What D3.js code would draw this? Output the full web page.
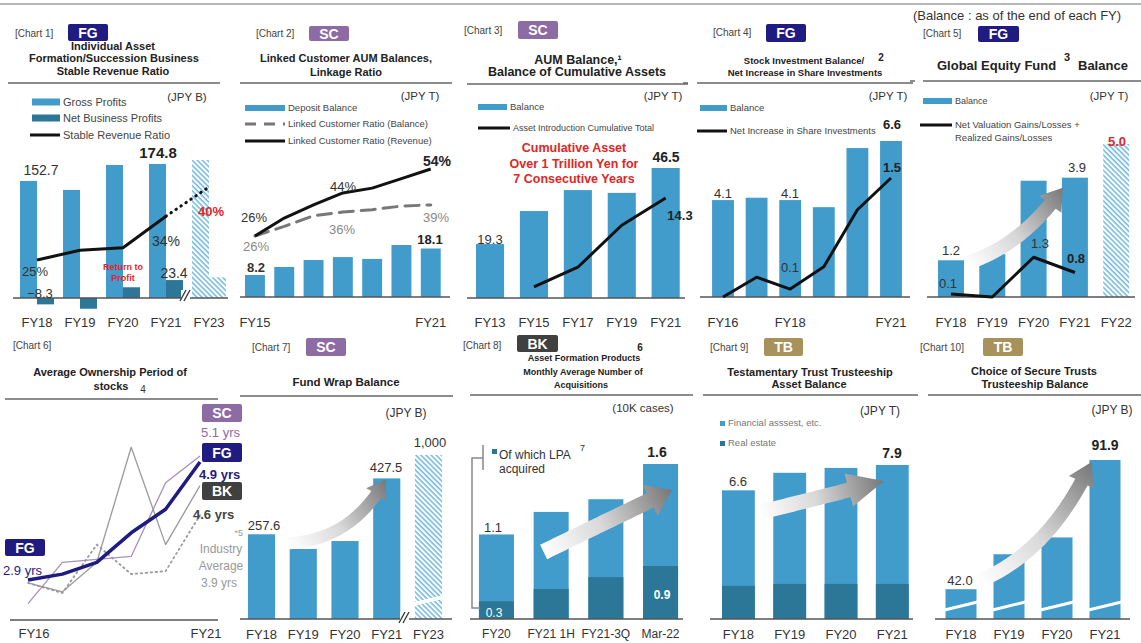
<!DOCTYPE html>
<html>
<head>
<meta charset="utf-8">
<script src="https://cdn.jsdelivr.net/npm/d3@7"></script>
<style>
body { margin: 0; background: #fff; }
svg { display: block; font-family: "Liberation Sans", Arial, sans-serif; }
</style>
</head>
<body>
<svg id="chart" width="1141" height="643"></svg>
<script>
// ---- data ----
var c1Years = ["FY18", "FY19", "FY20", "FY21", "FY23"];
var c1Gross = [152.7, 141.0, 173.5, 174.8, 180.0];   // FY23 = target (hatched)
var c1Net = [-8.3, -14.0, 14.0, 23.4, 27.0];
var c1Ratio = [25, 27, 27.5, 34, 40];

var c2Years = ["FY15", "FY16", "FY17", "FY18", "FY19", "FY20", "FY21"];
var c2Deposit = [8.2, 11.2, 13.8, 14.9, 14.2, 19.4, 18.1];
var c2RatioBal = [26, 30, 34.5, 36, 37, 38.5, 39];
var c2RatioRev = [26, 33.5, 39, 44, 46, 50, 54];
var c2Ticks = ["FY15", "FY21"];

var c3Years = ["FY13", "FY15", "FY17", "FY19", "FY21"];
var c3Balance = [19.3, 31.1, 38.6, 37.6, 46.5];
var c3Cumul = [null, 1.6, 4.4, 10.4, 14.3];

var c4Years = ["FY16", "FY17", "FY18", "FY19", "FY20", "FY21"];
var c4Balance = [4.1, 4.2, 4.1, 3.8, 6.3, 6.6];
var c4NetInc = [0.0, 0.25, 0.1, 0.38, 1.1, 1.5];
var c4Ticks = ["FY16", "FY18", "FY21"];

var c5Years = ["FY18", "FY19", "FY20", "FY21", "FY22"];
var c5Balance = [1.2, 1.4, 3.8, 3.9, 5.0];   // FY22 = target (hatched)
var c5Gains = [0.1, 0.0, 1.3, 0.8];

var c6Years = ["FY16", "FY17", "FY18", "FY19", "FY20", "FY21"];
var c6FG = [2.9, 3.0, 3.2, 3.7, 4.1, 4.9];
var c6SC = [2.5, 3.2, 3.25, 3.3, 4.55, 5.0];
var c6BK = [2.85, 2.7, 3.2, 5.15, 3.5, 4.5];
var c6Ind = [2.85, 2.68, 3.5, 3.0, 3.05, 4.0];
var c6Ticks = ["FY16", "FY21"];

var c7Years = ["FY18", "FY19", "FY20", "FY21", "FY23"];
var c7Balance = [257.6, 213, 237, 427.5, 1000];  // FY23 = target (hatched)

var c8Periods = ["FY20", "FY21 1H", "FY21-3Q", "Mar-22"];
var c8Total = [1.1, 1.26, 1.35, 1.6];
var c8LPA = [0.3, 0.51, 0.71, 0.9];

var c9Years = ["FY18", "FY19", "FY20", "FY21"];
var c9Total = [6.6, 7.5, 7.75, 7.9];
var c9RealEstate = [1.7, 1.8, 1.8, 1.8];

var c10Years = ["FY18", "FY19", "FY20", "FY21"];
var c10Balance = [42.0, 55.5, 62.0, 91.9];

var BLUE = "#419bcb", DARK = "#2c7797", NAVY = "#1f1b80", PURPLE = "#8d6ca6",
    BKGRAY = "#404040", GOLD = "#a8925b", RED = "#e02626";

var svg = d3.select("#chart");
var defs = svg.append("defs");
var fmt = d3.format(".1f");

// hatch for target bars
var pat = defs.append("pattern").attr("id", "hatch")
    .attr("width", 3.6).attr("height", 3.6)
    .attr("patternUnits", "userSpaceOnUse")
    .attr("patternTransform", "rotate(-45)");
pat.append("rect").attr("width", 3.6).attr("height", 3.6).attr("fill", "#fff");
pat.append("line").attr("x1", 1).attr("y1", 0).attr("x2", 1).attr("y2", 3.6)
    .attr("stroke", "#4aa6d8").attr("stroke-width", 1.2);

// ---- helpers ----
function txt(g, x, y, s, o) {
    o = o || {};
    return g.append("text")
        .attr("x", x).attr("y", y).attr("dy", "0.35em")
        .attr("text-anchor", o.anchor || "middle")
        .attr("font-size", o.size || 12)
        .attr("font-weight", o.bold ? "bold" : null)
        .attr("fill", o.color || "#333")
        .text(s);
}

function hline(x1, x2, y, color, w) {
    svg.append("line").attr("x1", x1).attr("x2", x2).attr("y1", y).attr("y2", y)
        .attr("stroke", color || "#666").attr("stroke-width", w || 1.5);
}

function badge(x, y, w, h, fill, s) {
    svg.append("rect").attr("x", x).attr("y", y).attr("width", w).attr("height", h)
        .attr("rx", 2).attr("fill", fill);
    txt(svg, x + w / 2, y + h / 2 + 0.5, s, {bold: true, size: 14, color: "#fff"});
}

function header(label, lx, ly, b, titles) {
    txt(svg, lx, ly, label, {anchor: "start", size: 10, color: "#444"});
    if (b) badge(b[0], b[1], b[2], b[3], b[4], b[5]);
    titles.forEach(function(t) {
        txt(svg, t[1], t[2], t[0], {bold: true, size: t[3] || 11, color: "#222", anchor: t[4] || "middle"});
    });
}

function legendRect(x, y, w, h, fill, label, size) {
    svg.append("rect").attr("x", x).attr("y", y - h / 2).attr("width", w).attr("height", h).attr("fill", fill);
    txt(svg, x + w + 3, y, label, {anchor: "start", size: size || 10, color: "#444"});
}

function legendLine(x, y, w, stroke, width, dash, label, size) {
    svg.append("line").attr("x1", x).attr("x2", x + w).attr("y1", y).attr("y2", y)
        .attr("stroke", stroke).attr("stroke-width", width).attr("stroke-dasharray", dash);
    txt(svg, x + w + 3, y, label, {anchor: "start", size: size || 10, color: "#444"});
}

function bars(x, y, keys, vals, fill, offset, width) {
    svg.append("g").selectAll("rect").data(vals).enter().append("rect")
        .attr("x", function(d, i) { return x(keys[i]) + (offset || 0); })
        .attr("width", width || x.bandwidth())
        .attr("y", function(d) { return Math.min(y(d), y.range()[0]); })
        .attr("height", function(d) { return Math.abs(y.range()[0] - y(d)); })
        .attr("fill", fill);
}

function path(pts, stroke, width, dash) {
    svg.append("path").datum(pts)
        .attr("d", d3.line().x(function(p) { return p[0]; }).y(function(p) { return p[1]; }))
        .attr("fill", "none").attr("stroke", stroke).attr("stroke-width", width)
        .attr("stroke-dasharray", dash || null)
        .attr("stroke-linejoin", "round").attr("stroke-linecap", dash ? "round" : "butt");
}

function xLabels(x, keys, y, size, shift) {
    keys.forEach(function(k) {
        txt(svg, x(k) + (x.bandwidth ? x.bandwidth() / 2 : 0) + (shift || 0), y, k, {size: size || 13, color: "#333"});
    });
}

// gradient arrow along a quadratic curve
var arrowN = 0;
function gArrow(p0, c, p2, body, head, headLen) {
    var id = "ag" + (arrowN++);
    var gr = defs.append("linearGradient").attr("id", id).attr("gradientUnits", "userSpaceOnUse")
        .attr("x1", p0[0]).attr("y1", p0[1]).attr("x2", p2[0]).attr("y2", p2[1]);
    gr.append("stop").attr("offset", 0).attr("stop-color", "#ffffff");
    gr.append("stop").attr("offset", 0.45).attr("stop-color", "#d8d8d8");
    gr.append("stop").attr("offset", 1).attr("stop-color", "#777");
    function bz(t) {
        var u = 1 - t;
        return [u * u * p0[0] + 2 * u * t * c[0] + t * t * p2[0], u * u * p0[1] + 2 * u * t * c[1] + t * t * p2[1]];
    }
    var N = 60, pts = [], len = [0];
    for (var i = 0; i <= N; i++) {
        pts.push(bz(i / N));
        if (i > 0) len.push(len[i - 1] + Math.hypot(pts[i][0] - pts[i - 1][0], pts[i][1] - pts[i - 1][1]));
    }
    var L = len[N], k = 0;
    while (k < N && len[k] < L - headLen) k++;
    var left = [], right = [];
    for (i = 0; i <= k; i++) {
        var a = pts[Math.max(i - 1, 0)], b = pts[Math.min(i + 1, N)];
        var dx = b[0] - a[0], dy = b[1] - a[1], dl = Math.hypot(dx, dy);
        var nx = -dy / dl, ny = dx / dl;
        left.push([pts[i][0] + nx * body / 2, pts[i][1] + ny * body / 2]);
        right.push([pts[i][0] - nx * body / 2, pts[i][1] - ny * body / 2]);
    }
    var B = pts[k], ex = p2[0] - B[0], ey = p2[1] - B[1], el = Math.hypot(ex, ey);
    var hx = -ey / el, hy = ex / el;
    var poly = left.concat([[B[0] + hx * head / 2, B[1] + hy * head / 2], p2,
        [B[0] - hx * head / 2, B[1] - hy * head / 2]]).concat(right.reverse());
    svg.append("path").attr("d", "M" + poly.map(function(p) { return p.join(","); }).join("L") + "Z")
        .attr("fill", "url(#" + id + ")");
}

function breakMark(x, y) {
    svg.append("rect").attr("x", x - 4).attr("y", y - 6).attr("width", 9).attr("height", 10).attr("fill", "#fff");
    [-2, 2].forEach(function(o) {
        svg.append("line").attr("x1", x + o - 3).attr("y1", y + 5).attr("x2", x + o + 3).attr("y2", y - 6)
            .attr("stroke", "#333").attr("stroke-width", 1.3);
    });
}

// ---- page frame ----
hline(0, 1141, 4, "#a0a0a0", 1.5);
txt(svg, 913, 15, "(Balance : as of the end of each FY)", {anchor: "start", size: 13, color: "#333"});

// ===== Chart 1 =====
header("[Chart 1]", 15, 33, [68, 24, 40, 17, NAVY, "FG"], [
    ["Individual Asset", 113, 46], ["Formation/Succession  Business", 114, 58], ["Stable Revenue Ratio", 113, 71]]);
hline(8, 220, 83);
txt(svg, 187, 97, "(JPY B)", {size: 11.5, color: "#333"});
legendRect(32, 102, 28, 7, BLUE, "Gross Profits", 11);
legendRect(32, 118, 28, 7, DARK, "Net Business Profits", 11);
legendLine(30, 135, 30, "#111", 3, null, "Stable Revenue Ratio", 11);

var x1 = d3.scaleBand().domain(c1Years).range([15.5, 230.5]).paddingInner(0.21).paddingOuter(0.105);
var h1 = x1.bandwidth() / 2;
var y1 = d3.scaleLinear().domain([0, 174.8]).range([298, 164]);
var r1 = d3.scaleLinear().domain([25, 40]).range([260, 187]);
bars(x1, y1, c1Years.slice(0, 4), c1Gross.slice(0, 4), BLUE, 0, h1);
bars(x1, y1, c1Years.slice(0, 4), c1Net.slice(0, 4), DARK, h1, h1);
bars(x1, y1, c1Years.slice(4), c1Gross.slice(4), "url(#hatch)", 0, h1);
bars(x1, y1, c1Years.slice(4), c1Net.slice(4), "url(#hatch)", h1, h1);
hline(13, 228, y1(0), "#555", 1.5);
breakMark(185, 296);
var p1 = c1Years.map(function(k, i) { return [x1(k) + h1, r1(c1Ratio[i])]; });
path(p1.slice(0, 4), "#111", 3);
path(p1.slice(3), "#111", 3, "0.5,5.5");
txt(svg, 41, 170, fmt(c1Gross[0]), {size: 14});
txt(svg, 158, 153, fmt(c1Gross[3]), {size: 15, bold: true, color: "#222"});
txt(svg, 35, 271, c1Ratio[0] + "%", {size: 13});
txt(svg, 166, 241, c1Ratio[3] + "%", {size: 14});
txt(svg, 211, 211, c1Ratio[4] + "%", {size: 13, bold: true, color: RED});
txt(svg, 174, 273, fmt(c1Net[3]), {size: 14});
txt(svg, 40, 293, fmt(c1Net[0]), {size: 13});
txt(svg, 123, 267, "Return to", {size: 9, bold: true, color: RED});
txt(svg, 123, 278, "Profit", {size: 9, bold: true, color: RED});
xLabels(x1, c1Years, 322, 13);

// ===== Chart 2 =====
header("[Chart 2]", 256, 33, [309, 26, 40, 15, PURPLE, "SC"], [
    ["Linked Customer AUM Balances,", 346, 58, 11], ["Linkage Ratio", 346, 72, 11]]);
hline(240, 452, 83);
txt(svg, 420, 96, "(JPY T)", {size: 11.5});
legendRect(245, 108, 40, 6, BLUE, "Deposit Balance", 9.5);
legendLine(245, 124, 40, "#777", 3, "11,8", "Linked Customer Ratio (Balance)", 9.5);
legendLine(245, 141, 40, "#111", 3, null, "Linked Customer Ratio (Revenue)", 9.5);

var x2 = d3.scaleBand().domain(c2Years).range([240.3, 445.4]).paddingInner(0.32).paddingOuter(0.16);
var y2 = d3.scaleLinear().domain([0, 18.1]).range([297, 248.5]);
var r2 = d3.scaleLinear().domain([26, 54]).range([236, 169]);
bars(x2, y2, c2Years, c2Deposit, BLUE);
hline(240, 450, 297, "#555", 1.5);
var cx2 = function(k) { return x2(k) + x2.bandwidth() / 2; };
path(c2Years.map(function(k, i) { return [cx2(k), r2(c2RatioBal[i])]; }), "#777", 3, "14,8");
path(c2Years.map(function(k, i) { return [cx2(k), r2(c2RatioRev[i])]; }), "#111", 3);
txt(svg, 254, 217, c2RatioRev[0] + "%", {size: 13});
txt(svg, 256, 246, c2RatioBal[0] + "%", {size: 13, color: "#888"});
txt(svg, 343, 186, c2RatioRev[3] + "%", {size: 13});
txt(svg, 437, 161, c2RatioRev[6] + "%", {size: 14, bold: true, color: "#222"});
txt(svg, 342, 229, c2RatioBal[3] + "%", {size: 13, color: "#888"});
txt(svg, 436, 217, c2RatioBal[6] + "%", {size: 13, color: "#888"});
txt(svg, 256, 267, fmt(c2Deposit[0]), {size: 13, bold: true, color: "#333"});
txt(svg, 430, 239, fmt(c2Deposit[6]), {size: 13, bold: true, color: "#222"});
xLabels(x2, c2Ticks, 322, 13);

// ===== Chart 3 =====
header("[Chart 3]", 464, 30, [518, 21, 40, 18, PURPLE, "SC"], [
    ["AUM Balance,\u00b9", 578, 60, 12.5], ["Balance of Cumulative Assets", 577, 72, 12.5]]);
hline(467, 688, 84);
txt(svg, 663, 96, "(JPY T)", {size: 11.5});
legendRect(478, 107, 29, 6, BLUE, "Balance", 9.5);
legendLine(478, 128, 32, "#111", 3, null, "Asset Introduction Cumulative Total", 9);
txt(svg, 574, 148, "Cumulative Asset", {size: 12.5, bold: true, color: RED});
txt(svg, 574, 164, "Over 1 Trillion Yen for", {size: 12.5, bold: true, color: RED});
txt(svg, 574, 179, "7 Consecutive Years", {size: 12.5, bold: true, color: RED});

var x3 = d3.scaleBand().domain(c3Years).range([467.2, 688.5]).paddingInner(0.36).paddingOuter(0.2);
var y3 = d3.scaleLinear().domain([0, 46.5]).range([298, 168]);
var l3 = d3.scaleLinear().domain([0, 14.3]).range([298, 198]);
bars(x3, y3, c3Years, c3Balance, BLUE);
hline(467, 685, 298, "#555", 1.5);
var cx3 = function(k) { return x3(k) + x3.bandwidth() / 2; };
path(c3Years.map(function(k, i) { return [cx3(k), l3(c3Cumul[i])]; }).filter(function(p, i) { return c3Cumul[i] !== null; }), "#111", 3);
txt(svg, 490, 239, fmt(c3Balance[0]), {size: 13});
txt(svg, 666, 157, fmt(c3Balance[4]), {size: 14, bold: true, color: "#222"});
txt(svg, 680, 215, fmt(c3Cumul[4]), {size: 13, bold: true, color: "#222"});
xLabels(x3, c3Years, 322, 13);

// ===== Chart 4 =====
header("[Chart 4]", 713, 32, [766, 24, 40, 18, NAVY, "FG"], [
    ["Stock Investment Balance/", 804, 61, 9.5], ["Net Increase in Share  Investments", 805, 73, 9.5]]);
txt(svg, 881, 57, "2", {size: 10, bold: true, color: "#222"});
hline(697, 913, 83);
hline(683, 688, 83);
txt(svg, 888, 96, "(JPY T)", {size: 11.5});
legendRect(700, 108, 27, 6, BLUE, "Balance", 9.5);
legendLine(697, 131, 30, "#111", 3, null, "Net Increase in Share Investments", 9.5);

var x4 = d3.scaleBand().domain(c4Years).range([702, 912]).paddingInner(0.35).paddingOuter(0.3);
var y4 = d3.scaleLinear().domain([0, 6.6]).range([297, 141]);
var l4 = d3.scaleLinear().domain([0, 1.5]).range([297, 178]);
bars(x4, y4, c4Years, c4Balance, BLUE);
hline(700, 910, 297, "#555", 1.5);
var cx4 = function(k) { return x4(k) + x4.bandwidth() / 2; };
path(c4Years.map(function(k, i) { return [cx4(k), l4(c4NetInc[i])]; }), "#111", 3);
txt(svg, 723, 193, fmt(c4Balance[0]), {size: 13});
txt(svg, 790, 193, fmt(c4Balance[2]), {size: 13});
txt(svg, 790, 267, fmt(c4NetInc[2]), {size: 13});
txt(svg, 892, 167, fmt(c4NetInc[5]), {size: 13, bold: true, color: "#222"});
txt(svg, 892, 124, fmt(c4Balance[5]), {size: 13, bold: true, color: "#222"});
xLabels(x4, c4Ticks, 322, 13);

// ===== Chart 5 =====
header("[Chart 5]", 923, 33, [978, 26, 41, 16, NAVY, "FG"], [
    ["Global  Equity  Fund", 937, 65, 13, "start"], ["Balance", 1078, 65, 13, "start"]]);
txt(svg, 1067, 57, "3", {size: 11, bold: true, color: "#222"});
hline(923, 1141, 81);
hline(910, 915, 81);
txt(svg, 1109, 96, "(JPY T)", {size: 11.5});
legendRect(923, 101, 29, 6, BLUE, "Balance", 9);
legendLine(920, 125, 32, "#111", 3, null, "Net Valuation Gains/Losses +", 9.5);
txt(svg, 955, 138, "Realized Gains/Losses", {anchor: "start", size: 9.5, color: "#444"});

var x5 = d3.scaleBand().domain(c5Years).range([925.6, 1141.6]).paddingInner(0.37).paddingOuter(0.3);
var y5 = d3.scaleLinear().domain([0, 5]).range([297, 144]);
bars(x5, y5, c5Years.slice(0, 4), c5Balance.slice(0, 4), BLUE);
bars(x5, y5, c5Years.slice(4), c5Balance.slice(4), "url(#hatch)");
hline(927, 1135, 297, "#555", 1.5);
var cx5 = function(k) { return x5(k) + x5.bandwidth() / 2; };
gArrow([x5("FY18") + x5.bandwidth() + 2, y5(c5Balance[0]) + 3], [1022, 246],
    [x5("FY21") + 1, y5(c5Balance[3]) + 10], 14, 28, 22);
path(c5Gains.map(function(v, i) { return [cx5(c5Years[i]), y5(v)]; }), "#111", 3);
txt(svg, 951, 250, fmt(c5Balance[0]), {size: 13});
txt(svg, 948, 283, fmt(c5Gains[0]), {size: 13});
txt(svg, 1040, 243, fmt(c5Gains[2]), {size: 13});
txt(svg, 1076, 258, fmt(c5Gains[3]), {size: 13, bold: true, color: "#222"});
txt(svg, 1077, 167, fmt(c5Balance[3]), {size: 13});
txt(svg, 1117, 141, fmt(c5Balance[4]), {size: 13, bold: true, color: RED});
xLabels(x5, c5Years, 322, 13);

// ===== Chart 6 =====
header("[Chart 6]", 13, 345, null, [
    ["Average Ownership Period of", 110, 372, 11], ["stocks", 111, 386, 11]]);
txt(svg, 143, 389, "4", {size: 10, color: "#333"});
hline(5, 218, 399);
hline(10, 218, 620, "#555", 1.5);
var x6 = d3.scalePoint().domain(c6Years).range([28, 200]);
var y6 = d3.scaleLinear().domain([2.9, 4.9]).range([580, 462]);
function series6(vals) { return c6Years.map(function(k, i) { return [x6(k), y6(vals[i])]; }); }
path(series6(c6Ind), "#999", 1.8, "1.5,3.5");
path(series6(c6BK), "#9a9a9a", 1.3);
path(series6(c6SC), "#a58fbf", 1.3);
path(series6(c6FG), NAVY, 3.5);
xLabels(x6, c6Ticks, 633, 13, 6);
svg.append("rect").attr("x", 5).attr("y", 539).attr("width", 40).attr("height", 17).attr("rx", 2).attr("fill", NAVY);
txt(svg, 25, 548, "FG", {bold: true, size: 14, color: "#fff"});
txt(svg, 3, 570, fmt(c6FG[0]) + " yrs", {anchor: "start", size: 13, color: NAVY});
badge(202, 404, 40, 18, PURPLE, "SC");
txt(svg, 201, 432, "5.1 yrs", {anchor: "start", size: 13, color: PURPLE});
badge(202, 443, 40, 19, NAVY, "FG");
txt(svg, 199, 474, fmt(c6FG[5]) + " yrs", {anchor: "start", size: 13, bold: true, color: NAVY});
badge(202, 482, 40, 18, BKGRAY, "BK");
txt(svg, 193, 514, "4.6 yrs", {anchor: "start", size: 13, bold: true, color: "#444"});
txt(svg, 243, 533, "*5", {anchor: "end", size: 9, color: "#999"});
txt(svg, 221, 549, "Industry", {size: 12, color: "#999"});
txt(svg, 221, 566, "Average", {size: 12, color: "#999"});
txt(svg, 219, 583, "3.9 yrs", {size: 12, color: "#999"});

// ===== Chart 7 =====
header("[Chart 7]", 252, 347, [306, 338, 40, 18, PURPLE, "SC"], [["Fund  Wrap Balance", 346, 382, 11.5]]);
hline(240, 453, 396);
txt(svg, 406, 413, "(JPY B)", {size: 12});
var x7 = d3.scaleBand().domain(c7Years).range([239.6, 450.4]).paddingInner(0.35).paddingOuter(0.2);
var y7 = d3.scaleLinear().domain([0, 450, 1000]).range([619, 471, 455]);  // broken axis
bars(x7, y7, c7Years.slice(0, 4), c7Balance.slice(0, 4), BLUE);
bars(x7, y7, c7Years.slice(4), c7Balance.slice(4), "url(#hatch)");
svg.append("line").attr("x1", x7("FY23") - 1).attr("x2", x7("FY23") + x7.bandwidth() + 1)
    .attr("y1", 604).attr("y2", 597).attr("stroke", "#fff").attr("stroke-width", 3.5);
hline(240, 452, 619, "#555", 1.5);
breakMark(404, 618);
gArrow([x7("FY18") + x7.bandwidth() + 13, y7(c7Balance[0]) + 9], [352, 540],
    [x7("FY21") + x7.bandwidth() / 2 - 1, y7(c7Balance[3]) + 1], 12, 24, 20);
txt(svg, 264, 525, fmt(c7Balance[0]), {size: 13});
txt(svg, 386, 467, fmt(c7Balance[3]), {size: 13});
txt(svg, 430, 442, d3.format(",")(c7Balance[4]), {size: 13});
xLabels(x7, c7Years, 634, 13);

// ===== Chart 8 =====
header("[Chart 8]", 463, 345, [517, 335, 41, 17, BKGRAY, "BK"], [
    ["Asset  Formation Products", 584, 358, 9], ["Monthly Average  Number of", 583, 372, 9], ["Acquisitions", 581, 385, 9]]);
txt(svg, 640, 347, "6", {size: 10, bold: true, color: "#222"});
hline(470, 693, 395);
txt(svg, 643, 408, "(10K cases)", {size: 11.5});
var x8 = d3.scaleBand().domain(c8Periods).range([468, 689]).paddingInner(0.36).paddingOuter(0.2);
var yT8 = d3.scaleLinear().domain([0.5, 1.6]).range([619, 464]);
var yL8 = d3.scaleLinear().domain([0, 0.9]).range([619, 566]);
bars(x8, yT8, c8Periods, c8Total, BLUE);
bars(x8, yL8, c8Periods, c8LPA, DARK);
hline(470, 683, 619, "#555", 1.5);
svg.append("path").attr("d", "M480,608H472V458H483M483,445V470")
    .attr("fill", "none").attr("stroke", "#888").attr("stroke-width", 1.5);
svg.append("rect").attr("x", 492).attr("y", 449).attr("width", 5).attr("height", 5).attr("fill", DARK);
txt(svg, 499, 455, "Of which LPA", {anchor: "start", size: 12, color: "#333"});
txt(svg, 580, 448, "7", {anchor: "start", size: 9, color: "#333"});
txt(svg, 499, 469, "acquired", {anchor: "start", size: 12, color: "#333"});
gArrow([x8("FY21 1H") + 10, 552], [607, 521], [x8("Mar-22") + x8.bandwidth() - 6, yT8(c8Total[3]) + 26], 16, 34, 26);
txt(svg, 493, 527, fmt(c8Total[0]), {size: 13});
txt(svg, 657, 452, fmt(c8Total[3]), {size: 14, bold: true, color: "#222"});
txt(svg, 494, 613, fmt(c8LPA[0]), {size: 12, color: "#fff"});
txt(svg, 662, 595, fmt(c8LPA[3]), {size: 12, bold: true, color: "#fff"});
xLabels(x8, c8Periods, 634, 12);

// ===== Chart 9 =====
header("[Chart 9]", 710, 347, [764, 338, 39, 18, GOLD, "TB"], [
    ["Testamentary Trust Trusteeship", 810, 372, 11], ["Asset Balance", 809, 384, 11]]);
hline(703, 918, 395);
txt(svg, 880, 411, "(JPY T)", {size: 12});
svg.append("rect").attr("x", 720).attr("y", 421).attr("width", 5).attr("height", 5).attr("fill", BLUE);
txt(svg, 728, 423, "Financial asssest, etc.", {anchor: "start", size: 9.5, color: "#777"});
svg.append("rect").attr("x", 720).attr("y", 441).attr("width", 5).attr("height", 5).attr("fill", DARK);
txt(svg, 728, 443, "Real estate", {anchor: "start", size: 9.5, color: "#777"});
var x9 = d3.scaleBand().domain(c9Years).range([706.6, 924.1]).paddingInner(0.36).paddingOuter(0.3);
var y9 = d3.scaleLinear().domain([0, 7.9]).range([619, 465]);
bars(x9, y9, c9Years, c9Total, BLUE);
bars(x9, y9, c9Years, c9RealEstate, DARK);
hline(710, 913, 619, "#555", 1.5);
gArrow([x9("FY18") + x9.bandwidth() + 5, y9(c9Total[0]) + 22], [822, 497],
    [x9("FY21") + 8, y9(c9Total[3]) + 16], 15, 34, 38);
txt(svg, 738, 481, fmt(c9Total[0]), {size: 13});
txt(svg, 892, 453, fmt(c9Total[3]), {size: 14, bold: true, color: "#222"});
xLabels(x9, c9Years, 634, 13);

// ===== Chart 10 =====
header("[Chart 10]", 920, 347, [983, 338, 40, 18, GOLD, "TB"], [
    ["Choice of Secure Trusts", 1034, 371, 11], ["Trusteeship Balance", 1035, 384, 11]]);
hline(928, 1141, 395);
txt(svg, 1112, 410, "(JPY B)", {size: 12});
var x10 = d3.scaleBand().domain(c10Years).range([931.1, 1134.9]).paddingInner(0.354).paddingOuter(0.3);
var y10 = d3.scaleLinear().domain([30.5, 91.9]).range([619, 460]);  // broken axis
bars(x10, y10, c10Years, c10Balance, BLUE);
c10Years.forEach(function(k) {
    svg.append("line").attr("x1", x10(k) - 1).attr("x2", x10(k) + x10.bandwidth() + 1)
        .attr("y1", 610).attr("y2", 602).attr("stroke", "#fff").attr("stroke-width", 3);
});
hline(935, 1130, 619, "#555", 1.5);
gArrow([x10("FY18") + x10.bandwidth() + 2, y10(c10Balance[0]) - 8], [1050, 552],
    [x10("FY21") + 2, y10(c10Balance[3]) + 2], 14, 28, 24);
txt(svg, 960, 580, fmt(c10Balance[0]), {size: 13});
txt(svg, 1105, 445, fmt(c10Balance[3]), {size: 14, bold: true, color: "#222"});
xLabels(x10, c10Years, 634, 13);
</script>
</body>
</html>
